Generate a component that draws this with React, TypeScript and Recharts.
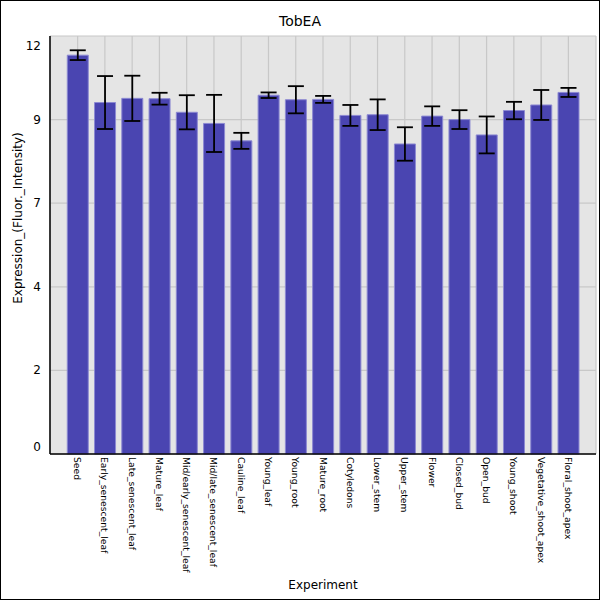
import React from "react";
import { BarChart, Bar, XAxis, YAxis, CartesianGrid, ErrorBar, Label } from "recharts";

const categories = [
  "Seed", "Early_senescent_leaf", "Late_senescent_leaf", "Mature_leaf", "Mid/early_senescent_leaf",
  "Mid/late_senescent_leaf", "Cauline_leaf", "Young_leaf", "Young_root", "Mature_root",
  "Cotyledons", "Lower_stem", "Upper_stem", "Flower", "Closed_bud", "Open_bud",
  "Young_shoot", "Vegetative_shoot_apex", "Floral_shoot_apex",
];
const values = [11.45, 10.09, 10.21, 10.2, 9.81, 9.49, 8.99, 10.3, 10.17, 10.18, 9.72, 9.74, 8.9, 9.7, 9.6, 9.16, 9.86, 10.02, 10.38];
const errors = [0.14, 0.76, 0.65, 0.17, 0.49, 0.82, 0.23, 0.08, 0.39, 0.1, 0.3, 0.44, 0.48, 0.28, 0.27, 0.53, 0.25, 0.43, 0.13];
const yTicks = [0, 2.4, 4.8, 7.2, 9.6, 12];

const data = categories.map((c, i) => ({ name: c, value: values[i], err: errors[i] }));
const FONT = "DejaVu Sans";

const XTick = (props: any) => {
  const { x, y, payload } = props;
  return (
    <text transform={`translate(${x},${y - 5}) rotate(90)`} textAnchor="start" dominantBaseline="central" fontSize={9.2} fontFamily={FONT} fill="#000">
      {payload.value}
    </text>
  );
};

const YTick = (props: any) => {
  const { x, y, payload } = props;
  let dy = 0;
  if (payload.value === 12) dy = 10;
  if (payload.value === 0) dy = -7;
  return (
    <text x={x - 1} y={y + dy} textAnchor="end" dominantBaseline="central" fontSize={12} fontFamily={FONT} fill="#000">
      {Math.floor(payload.value)}
    </text>
  );
};

export default function App() {
  return (
    <div style={{ position: "absolute", left: 0, top: 0, width: 600, height: 600, boxSizing: "border-box", border: "1px solid #000", background: "#fff" }}>
      <div style={{ position: "absolute", left: -1, top: -1, width: 600, height: 600 }}>
        <BarChart width={600} height={600} data={data} margin={{ top: 36, right: 4, bottom: 0, left: 0 }} barCategoryGap="12%">
          <text x={300} y={21} textAnchor="middle" dominantBaseline="central" fontSize={14} fontFamily={FONT} fill="#000">TobEA</text>
          <CartesianGrid fill="#e5e5e5" stroke="#c8c8c8" strokeWidth={1.2} />
          <XAxis
            dataKey="name"
            interval={0}
            height={146}
            padding={{ left: 14, right: 14 }}
            tickLine={false}
            tick={<XTick />}
            axisLine={{ stroke: "#000", strokeWidth: 1.5 }}
          >
            <Label
              content={() => (
                <text x={323} y={585} textAnchor="middle" dominantBaseline="central" fontSize={12} fontFamily={FONT} fill="#000">Experiment</text>
              )}
            />
          </XAxis>
          <YAxis
            width={50}
            domain={[0, 12]}
            ticks={yTicks}
            interval={0}
            tickLine={false}
            tick={<YTick />}
            axisLine={{ stroke: "#000", strokeWidth: 1.5 }}
          >
            <Label
              content={() => (
                <text transform="translate(18,218) rotate(-90)" textAnchor="middle" dominantBaseline="central" fontSize={12} fontFamily={FONT} fill="#000">Expression_(Fluor._Intensity)</text>
              )}
            />
          </YAxis>
          <Bar dataKey="value" fill="#4a45b1" stroke="#8c89d2" strokeWidth={1} isAnimationActive={false}>
            <ErrorBar dataKey="err" width={8} stroke="#000" strokeWidth={1.8} isAnimationActive={false} />
          </Bar>
        </BarChart>
      </div>
    </div>
  );
}
